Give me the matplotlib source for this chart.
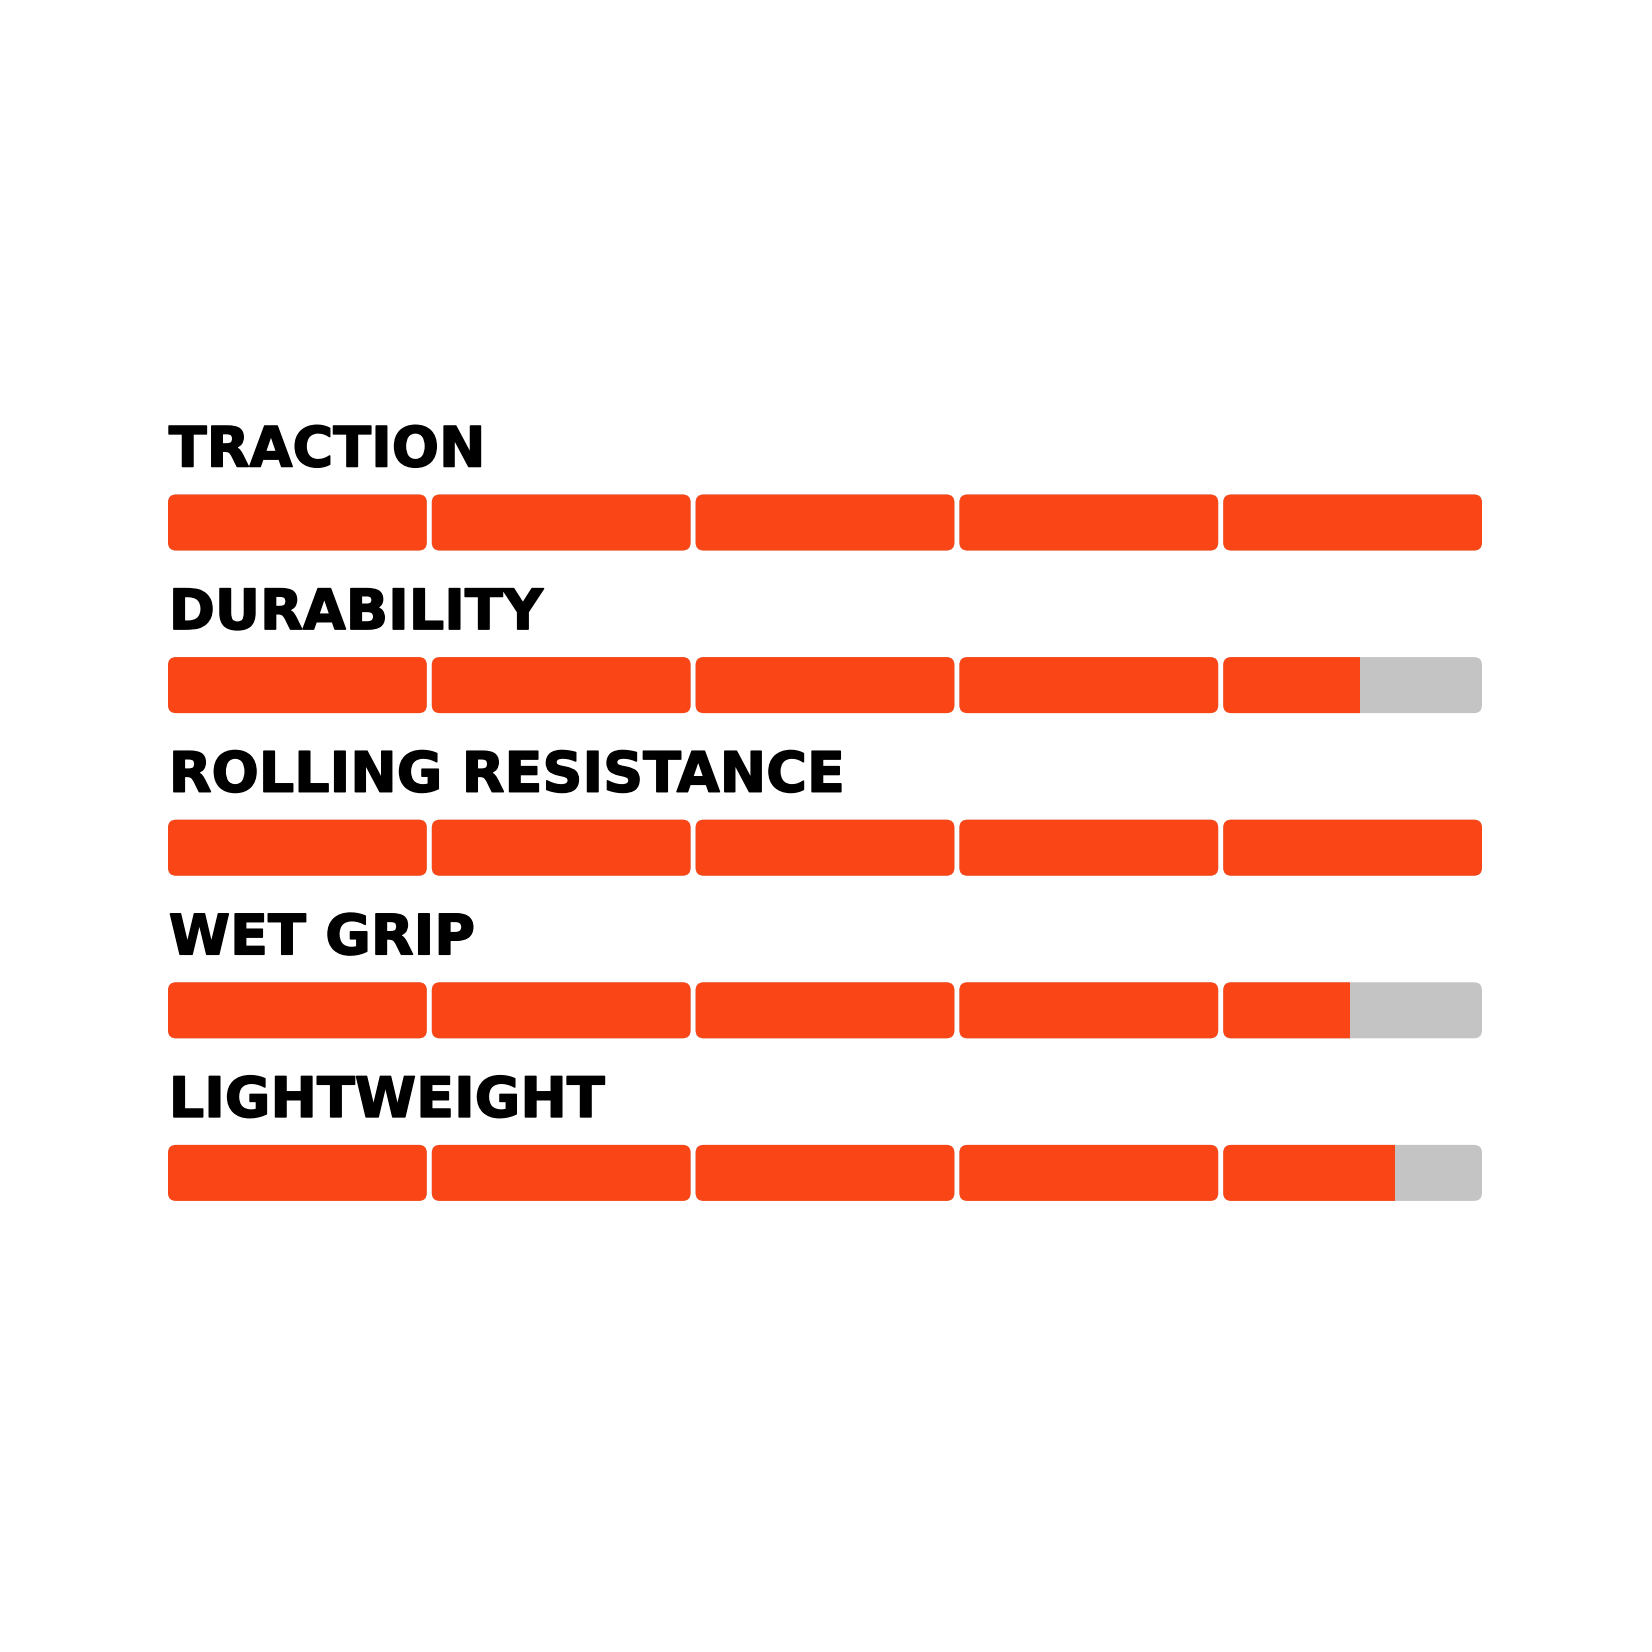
import matplotlib
matplotlib.use("Agg")
import matplotlib.pyplot as plt
import matplotlib.patheffects as pe
from matplotlib.patches import FancyBboxPatch, Rectangle

# ratings out of 5 segments
labels = ["TRACTION", "DURABILITY", "ROLLING RESISTANCE", "WET GRIP", "LIGHTWEIGHT"]
scores = [5.0, 4.52, 5.0, 4.48, 4.65]
n_seg = 5

ORANGE = "#FA4616"
GREY = "#C4C4C4"

W = 1652
fig = plt.figure(figsize=(W / 100, W / 100), dpi=100)
ax = fig.add_axes([0, 0, 1, 1])

gap = 0.019                      # gap between segments (in rating units)
px_x = (1482 - 168) / (n_seg - gap)   # pixels per rating unit
px_y = 162.6                     # pixels per row
x0_px, y0_px = 168, 522.5        # left edge / first row centre

ax.set_xlim(-x0_px / px_x, (W - x0_px) / px_x)
ax.set_ylim((W - y0_px) / px_y, -y0_px / px_y)
ax.axis("off")

bar_h = 56 / px_y
r = 8 / px_x
aspect = px_x / px_y

for i, (lab, sc) in enumerate(zip(labels, scores)):
    ax.text(0.003, i - 56 / px_y, lab, fontsize=40, fontweight="bold",
            family="DejaVu Sans", color="black", ha="left", va="baseline",
            path_effects=[pe.withStroke(linewidth=1.1, foreground="black")])
    for s in range(n_seg):
        left, w = s, 1 - gap
        grey = FancyBboxPatch((left, i - bar_h / 2), w, bar_h,
                              boxstyle=f"round,pad=0,rounding_size={r}",
                              mutation_aspect=aspect, fc=GREY, ec="none")
        ax.add_patch(grey)
        if sc <= s:
            continue
        fill = FancyBboxPatch((left, i - bar_h / 2), w, bar_h,
                              boxstyle=f"round,pad=0,rounding_size={r}",
                              mutation_aspect=aspect, fc=ORANGE, ec="none")
        ax.add_patch(fill)
        if sc < s + 1:
            clip = Rectangle((left, i - 1), sc - s, 2, transform=ax.transData)
            fill.set_clip_path(clip)

fig.savefig("out.png", dpi=100, facecolor="white")
